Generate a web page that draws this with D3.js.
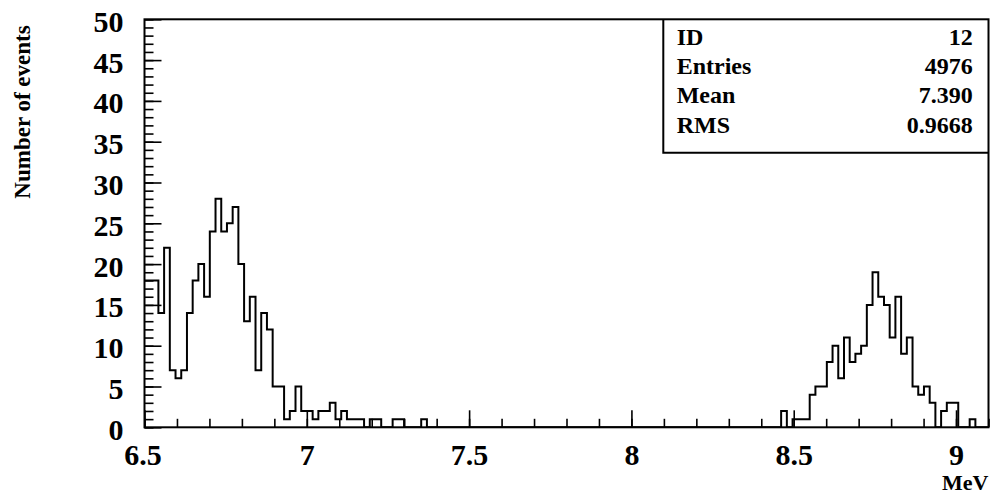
<!DOCTYPE html>
<html>
<head>
<meta charset="utf-8">
<script src="https://cdn.jsdelivr.net/npm/d3@7"></script>
<style>
  html, body { margin: 0; padding: 0; background: #fff; }
  svg { display: block; }
  text { font-family: "Liberation Serif", "Times New Roman", serif; font-weight: bold; fill: #000; }
</style>
</head>
<body>
<svg id="chart" width="990" height="496"></svg>
<script>
// ---- data ----
const binLow = 6.49;        // MeV, lower edge of first bin
const binWidth = 0.0176;    // MeV
const counts = [
  18, 18, 18, 14, 22, 7, 6, 7, 14, 18,
  20, 16, 24, 28, 24, 25, 27, 20, 13, 16,
  7, 14, 12, 5, 5, 1, 2, 5, 2, 2,
  1, 2, 2, 3, 1, 2, 1, 1, 1, 0,
  1, 1, 0, 0, 1, 1, 0, 0, 0, 1,
  0, 0, 0, 0, 0, 0, 0, 0, 0, 0,
  0, 0, 0, 0, 0, 0, 0, 0, 0, 0,
  0, 0, 0, 0, 0, 0, 0, 0, 0, 0,
  0, 0, 0, 0, 0, 0, 0, 0, 0, 0,
  0, 0, 0, 0, 0, 0, 0, 0, 0, 0,
  0, 0, 0, 0, 0, 0, 0, 0, 0, 0,
  0, 0, 2, 0, 1, 1, 1, 4, 5, 5,
  8, 10, 6, 11, 8, 9, 10, 15, 19, 16,
  15, 11, 16, 9, 11, 5, 4, 5, 3, 0,
  2, 3, 3, 0, 0, 1, 0, 0, 0
];
const xDomain = [6.5, 9.1];
const yDomain = [0, 50];
const xMajorTicks = [6.5, 7, 7.5, 8, 8.5, 9];
const xTickLabels = ["6.5", "7", "7.5", "8", "8.5", "9"];
const yMajorTicks = [0, 5, 10, 15, 20, 25, 30, 35, 40, 45, 50];
const statLabels = ["ID", "Entries", "Mean", "RMS"];
const statValues = ["12", "4976", "7.390", "0.9668"];
const xTitle = "MeV";
const yTitle = "Number of events";

// ---- layout ----
const L = 144.5, R = 988.5, T = 19.3, B = 427.3;
const svg = d3.select("#chart");
const x = d3.scaleLinear().domain(xDomain).range([L, R]);
const y = d3.scaleLinear().domain(yDomain).range([B, T]);

svg.append("defs").append("clipPath").attr("id", "plotclip")
  .append("rect").attr("x", L).attr("y", T).attr("width", R - L).attr("height", B - T);

// histogram outline
const pts = [];
counts.forEach((c, i) => {
  const lo = binLow + i * binWidth, hi = lo + binWidth;
  if (i === 0) pts.push([lo, 0]);
  pts.push([lo, c]); pts.push([hi, c]);
  if (i === counts.length - 1) pts.push([hi, 0]);
});
const line = d3.line().x(d => x(d[0])).y(d => y(d[1]));
svg.append("path")
  .attr("clip-path", "url(#plotclip)")
  .attr("d", line(pts))
  .attr("fill", "none").attr("stroke", "#000").attr("stroke-width", 2);

// y axis minor ticks
const yMinor = d3.range(0, 51, 1);
const gyMinor = svg.append("g").attr("transform", `translate(${L},0)`)
  .call(d3.axisLeft(y).tickValues(yMinor).tickSize(-9).tickFormat(""));
// y axis major ticks + labels
const gyMajor = svg.append("g").attr("transform", `translate(${L},0)`)
  .call(d3.axisLeft(y).tickValues(yMajorTicks).tickSize(-17).tickPadding(21).tickFormat(d3.format("d")));
[gyMinor, gyMajor].forEach(g => {
  g.select(".domain").remove();
  g.selectAll("line").attr("stroke", "#000").attr("stroke-width", 1.6);
});
gyMajor.selectAll("text")
  .attr("font-family", "Liberation Serif, serif").attr("font-weight", "bold")
  .attr("font-size", 30).attr("fill", "#000").attr("dy", "0.40em");

// x axis minor ticks
const xMinor = d3.range(65, 92, 1).map(v => v / 10);
const gxMinor = svg.append("g").attr("transform", `translate(0,${B})`)
  .call(d3.axisBottom(x).tickValues(xMinor).tickSize(-8.5).tickFormat(""));
const gxMajor = svg.append("g").attr("transform", `translate(0,${B})`)
  .call(d3.axisBottom(x).tickValues(xMajorTicks).tickSize(-17).tickPadding(16)
    .tickFormat((d, i) => xTickLabels[i]));
[gxMinor, gxMajor].forEach(g => {
  g.select(".domain").remove();
  g.selectAll("line").attr("stroke", "#000").attr("stroke-width", 1.6);
});
gxMajor.selectAll("text")
  .attr("font-family", "Liberation Serif, serif").attr("font-weight", "bold")
  .attr("font-size", 30).attr("fill", "#000").attr("dy", "0.72em")
  .attr("dx", (d, i) => i === 0 ? -2 : 0);

// frame
svg.append("rect").attr("x", L).attr("y", T).attr("width", R - L).attr("height", B - T)
  .attr("fill", "none").attr("stroke", "#000").attr("stroke-width", 2);

// stats box
const boxL = 663.3, boxB = 152.7;
svg.append("path")
  .attr("d", `M${boxL},${T} V${boxB} H${R}`)
  .attr("fill", "none").attr("stroke", "#000").attr("stroke-width", 2);
const rowY = d3.scaleLinear().domain([0, 3]).range([45, 132.6]);
statLabels.forEach((s, i) => {
  svg.append("text").attr("x", 676.7).attr("y", rowY(i)).attr("font-size", 24).text(s);
  svg.append("text").attr("x", 972.7).attr("y", rowY(i)).attr("font-size", 24)
    .attr("text-anchor", "end").text(statValues[i]);
});

// axis titles
svg.append("text").attr("x", R).attr("y", 490).attr("text-anchor", "end")
  .attr("font-size", 22).text(xTitle);
svg.append("text").attr("transform", `translate(30,112) rotate(-90)`)
  .attr("text-anchor", "middle").attr("font-size", 23).text(yTitle);
</script>
</body>
</html>
